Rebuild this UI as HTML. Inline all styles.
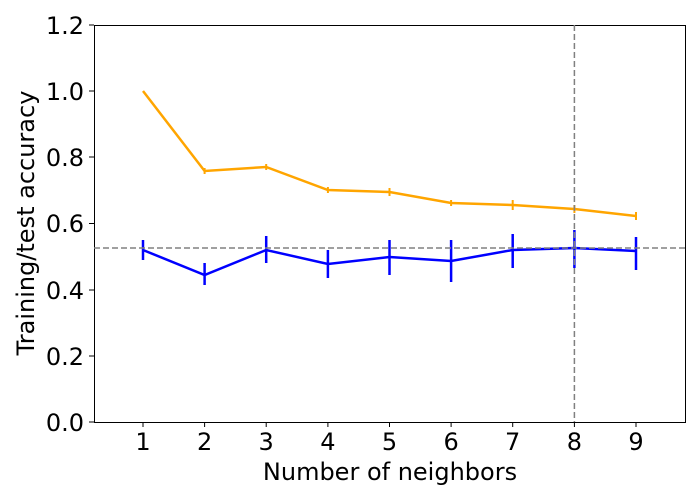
<!DOCTYPE html>
<html><head><style>body{margin:0;background:#fff}svg{display:block}text{font-family:"DejaVu Sans","Liberation Sans",sans-serif;fill:#000}</style></head>
<body>
<svg width="700" height="500" viewBox="0 0 700 500">
<rect x="94.5" y="25.5" width="591" height="397" fill="none" stroke="#000" stroke-width="1"/>
<g stroke="#000" stroke-width="1">
<line x1="94" y1="422" x2="89" y2="422"/><line x1="94" y1="356" x2="89" y2="356"/><line x1="94" y1="290" x2="89" y2="290"/><line x1="94" y1="223.5" x2="89" y2="223.5"/><line x1="94" y1="157" x2="89" y2="157"/><line x1="94" y1="91" x2="89" y2="91"/><line x1="94" y1="25" x2="89" y2="25"/>
<line x1="143" y1="422" x2="143" y2="427"/><line x1="204.6" y1="422" x2="204.6" y2="427"/><line x1="266.2" y1="422" x2="266.2" y2="427"/><line x1="327.9" y1="422" x2="327.9" y2="427"/><line x1="389.5" y1="422" x2="389.5" y2="427"/><line x1="451.1" y1="422" x2="451.1" y2="427"/><line x1="512.7" y1="422" x2="512.7" y2="427"/><line x1="574.4" y1="422" x2="574.4" y2="427"/><line x1="636" y1="422" x2="636" y2="427"/>
</g>
<g font-size="24" text-anchor="end">
<text x="84" y="431">0.0</text><text x="84" y="365">0.2</text><text x="84" y="299">0.4</text><text x="84" y="232">0.6</text><text x="84" y="166">0.8</text><text x="84" y="100">1.0</text><text x="84" y="34">1.2</text>
</g>
<g font-size="24" text-anchor="middle">
<text x="143" y="450">1</text><text x="204.6" y="450">2</text><text x="266.2" y="450">3</text><text x="327.9" y="450">4</text><text x="389.5" y="450">5</text><text x="451.1" y="450">6</text><text x="512.7" y="450">7</text><text x="574.4" y="450">8</text><text x="636" y="450">9</text>
<text x="390" y="480">Number of neighbors</text>
<text transform="translate(34,223) rotate(-90)">Training/test accuracy</text>
</g>
<polyline fill="none" stroke="#ffa500" stroke-width="2.5" points="143,91 204.6,171 266.2,167 327.9,190 389.5,192 451.1,203 512.7,205 574.4,209 636,216"/>
<g stroke="#ffa500" stroke-width="2">
<line x1="204.6" y1="168" x2="204.6" y2="174"/><line x1="266.2" y1="164" x2="266.2" y2="170"/><line x1="327.9" y1="187" x2="327.9" y2="193"/><line x1="389.5" y1="188" x2="389.5" y2="196"/><line x1="451.1" y1="200" x2="451.1" y2="206"/><line x1="512.7" y1="200" x2="512.7" y2="210"/><line x1="574.4" y1="205" x2="574.4" y2="213"/><line x1="636" y1="212" x2="636" y2="220"/>
</g>
<polyline fill="none" stroke="#0000ff" stroke-width="2.5" points="143,250 204.6,275 266.2,250 327.9,264 389.5,257 451.1,261 512.7,250 574.4,248 636,251"/>
<g stroke="#0000ff" stroke-width="2.5">
<line x1="143" y1="240" x2="143" y2="260"/><line x1="204.6" y1="263" x2="204.6" y2="285"/><line x1="266.2" y1="236" x2="266.2" y2="263"/><line x1="327.9" y1="250" x2="327.9" y2="278"/><line x1="389.5" y1="240" x2="389.5" y2="275"/><line x1="451.1" y1="240" x2="451.1" y2="282"/><line x1="512.7" y1="234" x2="512.7" y2="268"/><line x1="574.4" y1="230" x2="574.4" y2="268"/><line x1="636" y1="237" x2="636" y2="270"/>
</g>
<line x1="94" y1="248" x2="685" y2="248" stroke="#808080" stroke-width="1.5" stroke-dasharray="6,3"/>
<line x1="574.4" y1="25" x2="574.4" y2="422" stroke="#808080" stroke-width="1.5" stroke-dasharray="6,3"/>
</svg>
</body></html>
